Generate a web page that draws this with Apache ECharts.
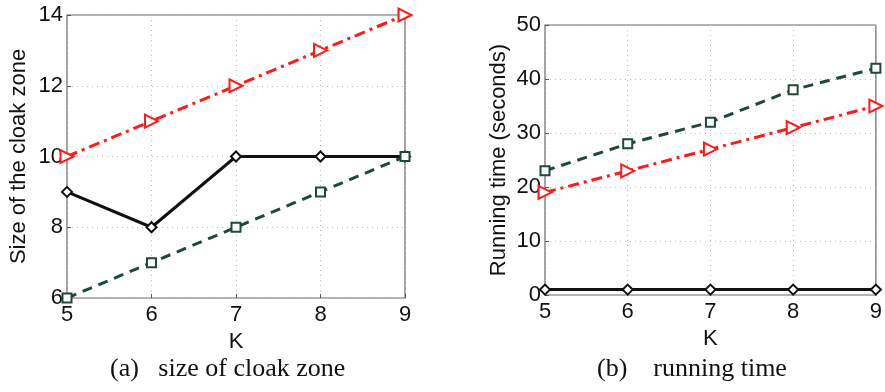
<!DOCTYPE html>
<html>
<head>
<meta charset="utf-8">
<script src="https://cdn.jsdelivr.net/npm/echarts@6/dist/echarts.min.js"></script>
<style>
  html, body { margin: 0; padding: 0; background: #fff; }
  #chart { width: 885px; height: 392px; }
</style>
</head>
<body>
<div id="chart"></div>
<script>
// K values shared by both panels
const kValues = [5, 6, 7, 8, 9];

// (a) size of cloak zone
const sizeRed = [10, 11, 12, 13, 14];
const sizeBlack = [9, 8, 10, 10, 10];
const sizeGreen = [6, 7, 8, 9, 10];

// (b) running time (seconds)
const timeRed = [19, 23, 27, 31, 35];
const timeBlack = [1, 1, 1, 1, 1];
const timeGreen = [23, 28, 32, 38, 42];

const RED = '#ff1a1a';
const GREEN = '#1d4a30';
const BLACK = '#111';
const FONT = '"Liberation Sans", Arial, sans-serif';
const SERIF = '"Liberation Serif", "Times New Roman", serif';

const pairs = (ys) => kValues.map((k, i) => [k, ys[i]]);

function xAxis(gridIndex) {
  return {
    gridIndex,
    type: 'value',
    min: 5, max: 9, interval: 1,
    name: 'K',
    nameLocation: 'middle',
    nameGap: 30,
    nameTextStyle: { color: '#111', fontSize: 22, fontFamily: FONT },
    axisLine: { show: false },
    axisTick: { show: true, inside: true, length: 4, lineStyle: { color: '#555' } },
    axisLabel: { color: '#111', fontSize: 22, fontFamily: FONT, margin: 6 },
    splitLine: { show: true, lineStyle: { color: '#bbb', type: [1, 4], width: 1 } },
  };
}

function yAxis(gridIndex, min, max, interval, name, gap) {
  return {
    gridIndex,
    type: 'value',
    min, max, interval,
    name,
    nameLocation: 'middle',
    nameGap: gap,
    nameTextStyle: { color: '#111', fontSize: 22, fontFamily: FONT },
    axisLine: { show: false },
    axisTick: { show: true, inside: true, length: 4, lineStyle: { color: '#555' } },
    axisLabel: { color: '#111', fontSize: 22, fontFamily: FONT, margin: 4 },
    splitLine: { show: true, lineStyle: { color: '#bbb', type: [1, 4], width: 1 } },
  };
}

function line(idx, data, color, dash, symbol, size, rotate) {
  return {
    type: 'line',
    xAxisIndex: idx,
    yAxisIndex: idx,
    data: pairs(data),
    symbol,
    symbolSize: size,
    symbolRotate: rotate || 0,
    showAllSymbol: true,
    lineStyle: { color, width: 3, type: dash },
    itemStyle: { color: '#fff', borderColor: color, borderWidth: 2 },
    clip: false,
    z: 3,
  };
}

const chart = echarts.init(document.getElementById('chart'), null, { renderer: 'canvas' });
chart.setOption({
  animation: false,
  backgroundColor: '#fff',
  grid: [
    { left: 67, top: 15, width: 338, height: 283, show: true, borderColor: '#666', borderWidth: 1.2, backgroundColor: 'transparent' },
    { left: 545, top: 25, width: 337, height: 270, show: true, borderColor: '#666', borderWidth: 1.2, backgroundColor: 'transparent' },
  ],
  xAxis: [xAxis(0), xAxis(1)],
  yAxis: [
    yAxis(0, 6, 14, 2, 'Size of the cloak zone', 37),
    yAxis(1, 0, 50, 10, 'Running time (seconds)', 35),
  ],
  series: [
    line(0, sizeRed, RED, [11, 5, 3, 5], 'triangle', 13, -90),
    line(0, sizeBlack, BLACK, 'solid', 'diamond', 10),
    line(0, sizeGreen, GREEN, [10, 7], 'rect', 9),
    line(1, timeRed, RED, [11, 5, 3, 5], 'triangle', 13, -90),
    line(1, timeBlack, BLACK, 'solid', 'diamond', 10),
    line(1, timeGreen, GREEN, [10, 7], 'rect', 9),
  ],
  graphic: [
    { type: 'text', left: 110, top: 356, style: { text: '(a)   size of cloak zone', fontSize: 26, fontFamily: SERIF, fill: '#111' } },
    { type: 'text', left: 597, top: 356, style: { text: '(b)    running time', fontSize: 26, fontFamily: SERIF, fill: '#111' } },
  ],
});
</script>
</body>
</html>
